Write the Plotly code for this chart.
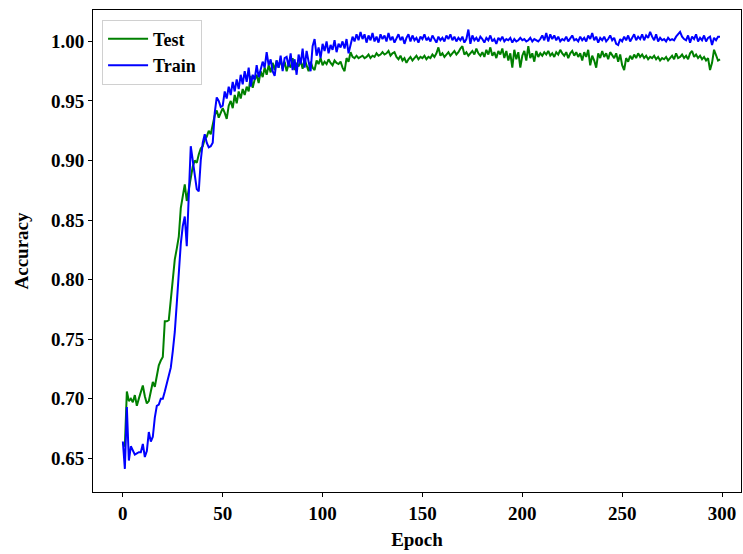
import plotly.graph_objects as go

epochs = list(range(300))

train_acc = [
    0.664, 0.641, 0.693, 0.648, 0.660, 0.656, 0.653, 0.654, 0.655, 0.655,
    0.662, 0.651, 0.656, 0.672, 0.664, 0.668, 0.684, 0.694, 0.695, 0.700,
    0.700, 0.706, 0.712, 0.718, 0.726, 0.740, 0.756, 0.780, 0.806, 0.830,
    0.845, 0.853, 0.828, 0.870, 0.912, 0.900, 0.886, 0.876, 0.874, 0.900,
    0.915, 0.922, 0.915, 0.911, 0.912, 0.915, 0.940, 0.953, 0.950, 0.945,
    0.946, 0.958, 0.952, 0.962, 0.955, 0.966, 0.958, 0.968, 0.960, 0.972,
    0.964, 0.975, 0.966, 0.978, 0.962, 0.972, 0.968, 0.980, 0.970, 0.976,
    0.983, 0.978, 0.991, 0.980, 0.985, 0.975, 0.971, 0.984, 0.978, 0.988,
    0.975, 0.986, 0.987, 0.979, 0.990, 0.976, 0.985, 0.972, 0.989, 0.981,
    0.994, 0.978, 0.992, 0.983, 0.975, 0.996, 1.002, 0.988, 0.995, 0.986,
    0.998, 0.992, 1.000, 0.990, 0.997, 0.993, 1.001, 0.991, 0.998, 0.995,
    1.000, 0.994, 1.002, 0.990, 0.998, 1.004, 1.000, 1.006, 1.001, 1.008,
    1.002, 1.006, 0.999, 1.005, 1.001, 1.007, 1.000, 1.004, 0.999, 1.006,
    1.002, 1.005, 1.000, 1.007, 1.001, 1.004, 0.999, 1.003, 1.006, 1.001,
    1.004, 0.998, 1.003, 1.006, 1.000, 1.005, 1.001, 1.003, 0.999, 1.004,
    1.002, 1.006, 1.001, 1.003, 1.000, 1.005, 1.002, 0.999, 1.004, 1.001,
    1.003, 1.000, 1.005, 1.002, 1.006, 1.001, 1.004, 1.000, 1.003, 1.001,
    1.004, 0.999, 1.002, 1.010, 0.998, 1.005, 1.001, 1.003, 1.000, 1.004,
    1.002, 0.999, 1.003, 1.001, 1.005, 1.000, 1.002, 0.998, 1.003, 1.001,
    1.004, 1.000, 1.002, 1.001, 1.003, 0.999, 1.002, 1.000, 1.001, 1.003,
    1.001, 1.002, 1.000, 1.001, 1.003, 1.000, 1.002, 1.001, 1.000, 1.002,
    1.005, 1.001, 1.007, 1.000, 1.006, 1.002, 1.005, 1.001, 1.004, 1.000,
    1.002, 1.001, 1.004, 1.000, 1.003, 1.005, 1.001, 1.002, 1.000, 1.004,
    1.001, 1.003, 1.000, 1.005, 1.002, 1.007, 1.001, 1.004, 0.999, 1.003,
    1.001, 1.004, 1.000, 1.002, 1.005, 1.001, 1.003, 0.998, 0.997, 1.002,
    1.000, 1.004, 1.001, 1.005, 1.000, 1.003, 1.006, 1.001, 1.004, 1.002,
    1.006, 1.001, 1.005, 1.003, 1.008, 1.004, 1.001, 1.006, 1.000, 1.003,
    1.001, 1.002, 1.000, 1.003, 1.001, 1.002, 1.001, 1.004, 1.006, 1.008,
    1.004, 1.002, 1.001, 1.005, 0.999, 1.004, 1.002, 1.006, 1.000, 1.003,
    1.001, 1.005, 1.000, 1.003, 1.004, 0.997, 1.003, 1.001, 1.004, 1.004,
]

test_acc = [
    0.662, 0.660, 0.706, 0.698, 0.700, 0.697, 0.703, 0.694, 0.700, 0.705,
    0.711, 0.702, 0.696, 0.698, 0.706, 0.714, 0.710, 0.718, 0.728, 0.732,
    0.735, 0.765, 0.765, 0.766, 0.785, 0.800, 0.817, 0.826, 0.836, 0.860,
    0.872, 0.880, 0.866, 0.876, 0.885, 0.895, 0.900, 0.898, 0.905, 0.910,
    0.912, 0.918, 0.920, 0.925, 0.922, 0.930, 0.938, 0.942, 0.936, 0.940,
    0.944, 0.940, 0.935, 0.946, 0.950, 0.944, 0.955, 0.948, 0.958, 0.952,
    0.960, 0.955, 0.962, 0.958, 0.971, 0.961, 0.968, 0.972, 0.965, 0.975,
    0.970, 0.978, 0.972, 0.980, 0.974, 0.982, 0.976, 0.984, 0.978, 0.985,
    0.977, 0.983, 0.975, 0.981, 0.978, 0.986, 0.976, 0.982, 0.979, 0.984,
    0.977, 0.985, 0.980, 0.975, 0.983, 0.978, 0.976, 0.984, 0.981, 0.986,
    0.980, 0.983, 0.981, 0.985, 0.982, 0.980, 0.984, 0.982, 0.981, 0.983,
    0.978, 0.975, 0.986, 0.983, 0.991, 0.987, 0.986, 0.988, 0.986, 0.987,
    0.988, 0.986, 0.987, 0.989, 0.986, 0.988, 0.987, 0.990, 0.988, 0.989,
    0.991, 0.989, 0.990, 0.992, 0.988, 0.990, 0.991, 0.987, 0.985, 0.988,
    0.984, 0.986, 0.982, 0.985, 0.987, 0.984, 0.986, 0.988, 0.985, 0.987,
    0.986, 0.988, 0.985, 0.987, 0.986, 0.989, 0.987, 0.990, 0.995, 0.988,
    0.990, 0.987, 0.989, 0.991, 0.988, 0.990, 0.992, 0.989, 0.991, 0.994,
    0.996, 0.989, 0.991, 0.988, 0.990, 0.992, 0.989, 0.994, 0.990, 0.988,
    0.991, 0.987, 0.993, 0.989, 0.995, 0.988, 0.991, 0.986, 0.992, 0.989,
    0.994, 0.986, 0.992, 0.984, 0.990, 0.978, 0.993, 0.985, 0.991, 0.978,
    0.988, 0.992, 0.984, 0.996, 0.986, 0.990, 0.983, 0.992, 0.987, 0.990,
    0.988, 0.991, 0.989, 0.992, 0.988, 0.990, 0.987, 0.991, 0.989, 0.993,
    0.990, 0.988, 0.991, 0.986, 0.990, 0.992, 0.988, 0.991, 0.987, 0.990,
    0.984, 0.991, 0.987, 0.993, 0.980, 0.988, 0.984, 0.978, 0.990, 0.986,
    0.992, 0.987, 0.990, 0.985, 0.991, 0.988, 0.986, 0.990, 0.983, 0.989,
    0.980, 0.976, 0.986, 0.983, 0.988, 0.985, 0.989, 0.986, 0.990, 0.987,
    0.989, 0.986, 0.988, 0.985, 0.987, 0.986, 0.988, 0.985, 0.987, 0.984,
    0.986, 0.985, 0.987, 0.984, 0.986, 0.988, 0.985, 0.990, 0.986, 0.987,
    0.989, 0.986, 0.988, 0.985, 0.990, 0.992, 0.987, 0.989, 0.986, 0.988,
    0.985, 0.987, 0.984, 0.986, 0.976, 0.982, 0.993, 0.988, 0.984, 0.985,
]

x_ticks = [0, 50, 100, 150, 200, 250, 300]
y_ticks = [0.65, 0.70, 0.75, 0.80, 0.85, 0.90, 0.95, 1.00]
y_tick_labels = ["0.65", "0.70", "0.75", "0.80", "0.85", "0.90", "0.95", "1.00"]

FONT = "Liberation Serif"

fig = go.Figure()
fig.add_trace(go.Scatter(x=epochs, y=test_acc, mode="lines", name="Test",
                         line=dict(color="#008000", width=2)))
fig.add_trace(go.Scatter(x=epochs, y=train_acc, mode="lines", name="Train",
                         line=dict(color="#0000ff", width=2)))

axis_common = dict(showline=True, linecolor="black", linewidth=1, mirror=True,
                   ticks="outside", ticklen=4, tickcolor="black", showgrid=False,
                   zeroline=False, tickfont=dict(family=FONT, size=19, color="black", weight="bold"))

fig.update_layout(
    width=743, height=554,
    margin=dict(l=93, r=2, t=10, b=62),
    paper_bgcolor="white", plot_bgcolor="white",
    font=dict(family=FONT, color="black"),
    xaxis=dict(range=[-14.95, 309.5], tickvals=x_ticks,
               title=dict(text="Epoch", font=dict(family=FONT, size=19, color="black", weight="bold"), standoff=9),
               **axis_common),
    yaxis=dict(range=[0.6216, 1.0264], tickvals=y_ticks, ticktext=y_tick_labels,
               title=dict(text="Accuracy", font=dict(family=FONT, size=19, color="black", weight="bold"), standoff=17),
               **axis_common),
    legend=dict(x=0.014, y=0.98, xanchor="left", yanchor="top",
                bgcolor="rgba(255,255,255,0.9)", bordercolor="#d0d0d0", borderwidth=1,
                font=dict(family=FONT, size=18, color="black", weight="bold"),
                itemwidth=40, tracegroupgap=2),
    showlegend=True,
)

fig.write_html("out.html")
